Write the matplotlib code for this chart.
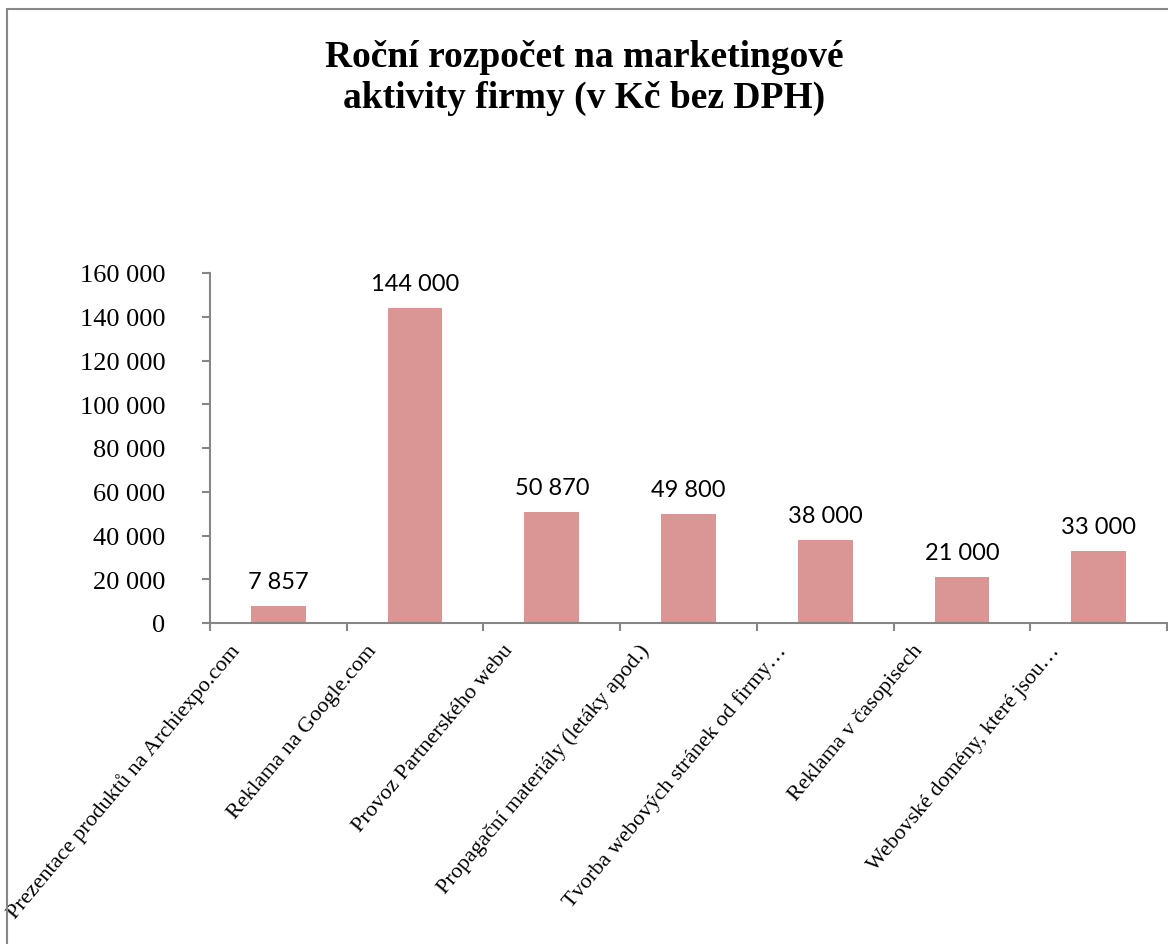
import matplotlib
matplotlib.use("Agg")
import matplotlib.pyplot as plt
from matplotlib.patches import Rectangle
from matplotlib.ticker import FuncFormatter, MultipleLocator

categories = [
    "Prezentace produktů na Archiexpo.com",
    "Reklama na Google.com",
    "Provoz Partnerského webu",
    "Propagační materiály (letáky apod.)",
    "Tvorba webových stránek od firmy…",
    "Reklama v časopisech",
    "Webovské domény, které jsou…",
]
values = [7857, 144000, 50870, 49800, 38000, 21000, 33000]
title = "Roční rozpočet na marketingové\naktivity firmy (v Kč bez DPH)"

W, H, DPI = 1168, 945, 100
fig = plt.figure(figsize=(W / DPI, H / DPI), dpi=DPI)
fig.patch.set_facecolor("white")

# outer chart border
fig.patches.append(Rectangle((7 / W, -0.05), 1.2, 1 - 10 / H + 0.05,
                             transform=fig.transFigure, fill=False,
                             edgecolor="#888888", linewidth=1.5))

ax = fig.add_axes([210 / W, 1 - 624 / H, (1167 - 210) / W, (624 - 274) / H])
serif = "Liberation Serif"
axis_col = "#868686"

x = list(range(len(values)))
ax.bar(x, values, width=0.4, color="#D99694", zorder=2)
ax.set_xlim(-0.5, len(values) - 0.5)
ax.set_ylim(0, 160000)

for s in ["top", "right"]:
    ax.spines[s].set_visible(False)
for s in ["left", "bottom"]:
    ax.spines[s].set_color(axis_col)
    ax.spines[s].set_linewidth(1.5)

ax.yaxis.set_major_locator(MultipleLocator(20000))
ax.yaxis.set_major_formatter(FuncFormatter(lambda v, p: f"{int(v):,}".replace(",", " ")))
ax.tick_params(axis="y", direction="out", length=6, width=1.5, color=axis_col,
               pad=26, labelsize=19)
for lab in ax.get_yticklabels():
    lab.set_fontfamily(serif)

# x ticks between categories
ax.set_xticks([i - 0.5 for i in range(len(values) + 1)])
ax.set_xticklabels([])
ax.tick_params(axis="x", direction="out", length=6, width=1.5, color=axis_col)

for i, c in enumerate(categories):
    ax.annotate(c, xy=(i, 0), xycoords="data", xytext=(-42, -24),
                textcoords="offset pixels", rotation=50, ha="right", va="center",
                rotation_mode="anchor", fontsize=16, fontfamily=serif)

for i, v in enumerate(values):
    ax.annotate(f"{v:,}".replace(",", " "), xy=(i, v), xytext=(0, 14),
                textcoords="offset pixels", ha="center", va="bottom",
                fontsize=17, fontfamily="Lato")

fig.text(0.5, 1 - 78 / H, title, ha="center", va="center", fontsize=27,
         fontweight="bold", fontfamily=serif, linespacing=1.2)

fig.savefig("out.png", dpi=DPI)
